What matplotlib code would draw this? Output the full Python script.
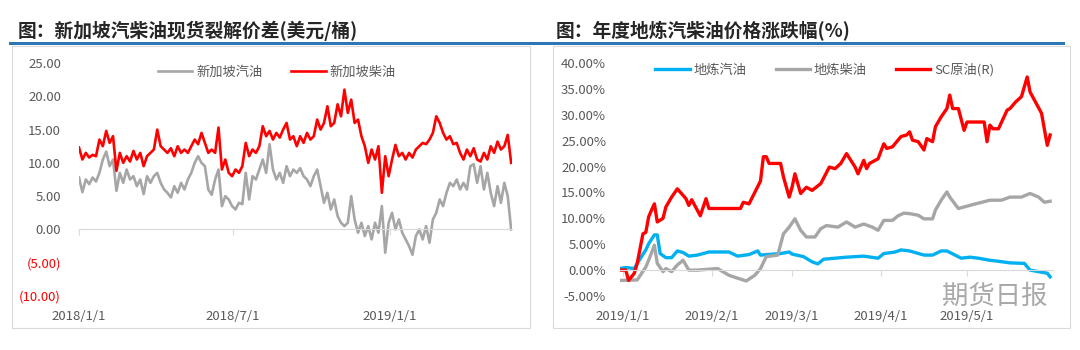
import pandas as pd
import matplotlib
matplotlib.use("Agg")
import matplotlib.pyplot as plt
import matplotlib.dates as mdates
from matplotlib.lines import Line2D
from matplotlib.patches import Rectangle

plt.rcParams['font.family'] = ['Noto Sans CJK SC', 'DejaVu Sans']

# 新加坡汽柴油裂解价差(美元/桶), 2018/1/1 起每4天取一个点
sg_gasoline = [7.8, 5.6, 7.5, 6.8, 7.8, 7.2, 8.5, 10.5, 11.7, 9.5, 10.5, 5.8, 8.5, 7.0, 9.0,
               7.5, 8.0, 6.5, 7.5, 5.3, 8.0, 7.0, 8.0, 8.5, 7.0, 6.0, 5.5, 4.8, 6.5, 5.5,
               7.0, 6.0, 7.5, 8.5, 10.0, 11.0, 10.0, 9.5, 6.0, 5.2, 7.5, 9.0, 3.5,
               5.0, 4.5, 3.5, 3.0, 4.0, 3.8, 8.5, 4.5, 8.0, 7.5, 9.0, 10.5, 8.5, 12.8, 9.0,
               7.5, 8.5, 7.0, 9.5, 8.0, 9.0, 8.5, 9.2, 8.0, 7.5, 6.5, 8.0, 9.0, 6.5, 4.0,
               5.5, 3.0, 4.5, 2.0, 1.0, 0.5, 1.0, 5.0, 1.5, -0.5, 1.0, -1.0,
               0.5, -1.5, 1.0, -0.5, 3.5, -3.5, 1.0, 2.5, 0.0, 1.5, -0.5, -1.5, -2.5, -3.8,
               -1.0, 0.0, -1.5, 0.5, -2.0, 1.5, 2.5, 4.5, 3.5, 5.5, 7.0, 6.5, 7.5, 6.0, 7.0,
               6.0, 9.5, 9.8, 7.0, 9.5, 6.0, 8.5, 5.5, 3.5, 6.5, 4.0, 7.0, 5.0, 0.0]
sg_diesel = [12.3, 10.5, 11.5, 10.8, 11.2, 11.0, 13.5, 12.5, 14.8, 13.0, 14.0, 8.8, 11.5, 10.0,
             11.0, 10.2, 11.8, 10.5, 11.5, 9.5, 11.0, 11.5, 12.0, 15.0, 12.5, 12.0, 11.5, 12.2,
             11.0, 12.5, 11.5, 12.0, 11.5, 12.5, 13.5, 12.8, 14.5, 13.0, 11.5, 12.0, 11.5, 15.3, 9.0,
             10.5, 8.5, 8.0, 9.0, 8.5, 9.5, 13.0, 11.0, 12.0, 11.5, 12.5, 15.5, 14.0, 14.8, 13.5,
             14.5, 13.8, 15.0, 16.0, 13.5, 14.0, 12.5, 14.0, 13.0, 14.5, 13.5, 14.0, 16.5, 15.0,
             16.0, 18.5, 15.5, 16.0, 18.8, 17.0, 21.0, 17.5, 19.5, 16.0, 16.5, 14.0, 12.5,
             10.0, 12.0, 10.5, 12.5, 5.5, 11.0, 8.0, 10.5, 12.7, 11.0, 11.5, 10.5, 11.5, 10.8,
             12.0, 12.5, 13.0, 12.8, 13.5, 14.5, 17.0, 16.0, 14.5, 13.5, 14.0, 12.8, 13.0, 11.5,
             10.5, 12.0, 11.0, 12.2, 10.5, 10.2, 11.5, 10.5, 12.5, 11.5, 13.2, 12.0, 12.5, 14.2, 10.0]
left_xticks = ['2018-01-01', '2018-07-01', '2019-01-01']
left_xlabels = ['2018/1/1', '2018/7/1', '2019/1/1']
left_yticks = [25, 20, 15, 10, 5, 0, -5, -10]

# 年度地炼汽柴油价格涨跌幅(%), 天数从2019/1/1起算
gas_days = [-1, 1, 4, 5, 8, 9, 11, 12, 13, 15, 17, 19, 21, 23, 26, 30, 37, 40, 44, 47, 48, 55,
            58, 59, 63, 66, 68, 70, 74, 78, 84, 89, 91, 95, 97, 100, 105, 108, 111, 113, 118,
            121, 124, 128, 131, 135, 140, 142, 145, 148, 149]
gas_pct = [0.3, 0.5, 0.3, 1.3, 3.9, 5.1, 6.8, 6.8, 3.2, 2.4, 2.4, 3.7, 3.4, 2.7, 2.9, 3.5, 3.5,
           2.7, 3.0, 3.7, 2.9, 3.2, 3.5, 3.1, 2.6, 1.6, 1.2, 2.1, 2.3, 2.5, 2.7, 2.3, 3.2, 3.5,
           3.9, 3.7, 2.9, 2.9, 3.7, 3.7, 2.3, 2.5, 2.3, 1.9, 1.7, 1.4, 1.3, 0.0, -0.3, -0.6, -1.3]
diesel_days = [-1, 5, 8, 9, 11, 12, 14, 15, 17, 19, 21, 23, 26, 33, 37, 43, 46, 48, 50, 54, 56,
               58, 60, 62, 64, 67, 69, 71, 75, 78, 81, 84, 87, 89, 91, 94, 96, 98, 100, 103,
               105, 108, 109, 111, 113, 114, 117, 119, 123, 128, 132, 135, 139, 142, 145, 147, 149]
diesel_pct = [-2.0, -1.9, 0.6, 1.9, 4.8, 1.3, -0.3, 0.3, -0.3, 1.0, 1.9, 0.0, 0.0, 0.3, -1.0,
              -2.1, -1.0, 0.3, 2.6, 2.9, 7.0, 8.3, 9.9, 7.7, 6.4, 6.4, 8.0, 8.6, 8.3, 9.3, 8.3,
              8.9, 8.3, 7.7, 9.6, 9.6, 10.5, 11.0, 10.9, 10.6, 9.9, 9.9, 11.6, 13.5, 15.1, 14.1,
              11.9, 12.2, 12.8, 13.5, 13.5, 14.1, 14.1, 14.8, 14.1, 13.1, 13.3]
sc_days = [-1, 1, 2, 4, 5, 7, 8, 9, 10, 11, 12, 14, 15, 17, 19, 22, 23, 24, 27, 29, 30, 41, 42,
           44, 46, 48, 49, 50, 51, 55, 56, 58, 59, 60, 62, 64, 66, 69, 72, 74, 76, 78, 81, 82,
           84, 85, 86, 89, 91, 92, 94, 97, 99, 100, 101, 103, 105, 106, 108, 109, 111, 113, 114,
           115, 117, 119, 120, 126, 127, 128, 129, 131, 134, 135, 137, 139, 141, 142, 146, 148, 149]
sc_pct = [0.0, 0.0, -2.0, -0.6, 1.3, 7.0, 7.3, 10.3, 11.6, 12.8, 9.3, 10.0, 12.2, 14.1, 15.7,
          13.8, 12.5, 13.6, 10.5, 13.8, 11.9, 11.9, 13.1, 12.8, 15.0, 17.2, 21.9, 21.9, 20.6,
          20.6, 18.0, 14.1, 16.0, 18.6, 14.8, 16.0, 15.4, 16.7, 19.9, 19.6, 20.6, 22.5, 19.9,
          18.6, 21.2, 19.6, 20.6, 21.5, 24.4, 23.5, 23.8, 25.8, 26.1, 26.7, 25.1, 24.8, 23.2,
          25.4, 24.8, 27.7, 29.6, 31.2, 33.8, 31.2, 31.2, 27.0, 28.6, 28.6, 24.8, 28.0, 27.3,
          27.3, 30.9, 31.2, 32.5, 33.5, 37.3, 34.4, 30.3, 24.1, 26.1]
right_xticks = ['2019-01-01', '2019-02-01', '2019-03-01', '2019-04-01', '2019-05-01']
right_xlabels = ['2019/1/1', '2019/2/1', '2019/3/1', '2019/4/1', '2019/5/1']
right_yticks = [40, 35, 30, 25, 20, 15, 10, 5, 0, -5]

RED = '#ff0000'
GREY = '#a6a6a6'
BLUE = '#00b0f0'
TXT = '#595959'
W, H = 1080, 350


def fx(px):
    return px / W


def fy(py):
    return 1 - py / H


def to_num(dates):
    return mdates.date2num(pd.to_datetime(dates))


def style_axes(ax, xticks, xlabels, yticks, ylabels, ypad):
    for s in ['top', 'right', 'left']:
        ax.spines[s].set_visible(False)
    ax.spines['bottom'].set_position(('data', 0))
    ax.spines['bottom'].set_color('#d9d9d9')
    ax.set_xticks(xticks)
    ax.tick_params(axis='x', length=4, color='#d9d9d9', labelbottom=False)
    ax.set_yticks(yticks, ylabels)
    ax.tick_params(axis='y', length=0, pad=ypad, labelsize=9.5, labelcolor=TXT)
    sec = ax.secondary_xaxis('bottom')
    sec.set_xticks(xticks, xlabels)
    sec.spines['bottom'].set_visible(False)
    sec.tick_params(length=0, pad=10, labelsize=9.5, labelcolor=TXT)
    ax.set_facecolor('none')


fig = plt.figure(figsize=(10.8, 3.5), dpi=100)

# chart frames, title underlines and titles
for x0, x1 in [(12, 530), (553, 1070)]:
    fig.add_artist(Rectangle((fx(x0), fy(328)), fx(x1 - x0), (328 - 46) / H,
                             transform=fig.transFigure, fill=False,
                             edgecolor='#d9d9d9', lw=0.8))
for x0, x1 in [(10, 540), (542, 1063)]:
    fig.add_artist(Line2D([fx(x0), fx(x1)], [fy(43), fy(43)], color='#2e75b6', lw=2.2))
fig.text(fx(18), fy(31), '图：新加坡汽柴油现货裂解价差(美元/桶)', fontsize=13.5,
         fontweight='bold', color='#262626', va='center')
fig.text(fx(556), fy(31), '图：年度地炼汽柴油价格涨跌幅(%)', fontsize=13.5,
         fontweight='bold', color='#262626', va='center')

# left: Singapore cracks
axl = fig.add_axes([fx(79), fy(296), fx(433), 233 / H])
left_x = to_num(pd.date_range('2018-01-01', periods=len(sg_diesel), freq='4D'))
axl.plot(left_x, sg_gasoline, color=GREY, lw=1.9, label='新加坡汽油')
axl.plot(left_x, sg_diesel, color=RED, lw=1.9, label='新加坡柴油')
axl.set_xlim(to_num(['2018-01-01'])[0], to_num(['2019-05-25'])[0])
axl.set_ylim(-10, 25)
left_ylabels = [f'{v:.2f}' if v >= 0 else f'({abs(v):.2f})' for v in left_yticks]
style_axes(axl, to_num(left_xticks), left_xlabels, left_yticks, left_ylabels, 13)
for lab, v in zip(axl.get_yticklabels(), left_yticks):
    if v < 0:
        lab.set_color(RED)
axl.legend(loc='center', bbox_to_anchor=(0.457, 0.962), ncol=2, frameon=False,
           fontsize=9.5, labelcolor=TXT, handlelength=2.6, handletextpad=0.3,
           columnspacing=2.2)

# right: local refinery price change
axr = fig.add_axes([fx(620), fy(296), fx(433), 233 / H])
jan1 = to_num(['2019-01-01'])[0]
axr.plot([jan1 + d for d in gas_days], gas_pct, color=BLUE, lw=2.4, label='地炼汽油')
axr.plot([jan1 + d for d in diesel_days], diesel_pct, color=GREY, lw=2.4, label='地炼柴油')
axr.plot([jan1 + d for d in sc_days], sc_pct, color=RED, lw=2.4, label='SC原油(R)')
axr.set_xlim(jan1 - 1, jan1 + 150)
axr.set_ylim(-5, 40)
right_ylabels = [f'{v:.2f}%' for v in right_yticks]
style_axes(axr, to_num(right_xticks), right_xlabels, right_yticks, right_ylabels, 10)
axr.legend(loc='center', bbox_to_anchor=(0.473, 0.97), ncol=3, frameon=False,
           fontsize=9.5, labelcolor=TXT, handlelength=2.6, handletextpad=0.3,
           columnspacing=2.2)

fig.text(fx(942), fy(296), '期货日报', fontsize=19, color='#8c8c8c', alpha=0.75,
         va='center')

fig.savefig('out.png', dpi=100)
